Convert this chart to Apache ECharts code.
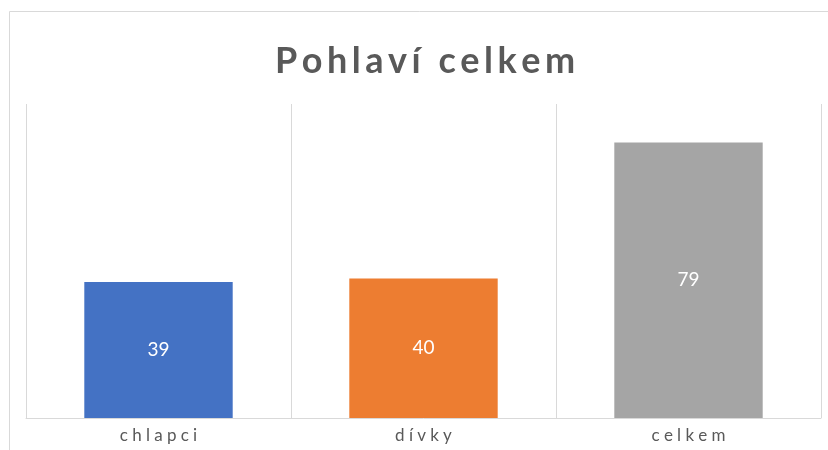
<!DOCTYPE html>
<html>
<head>
<meta charset="utf-8">
<script src="https://cdn.jsdelivr.net/npm/echarts@6/dist/echarts.min.js"></script>
<style>
  html, body { margin: 0; padding: 0; background: #fff; }
  #chart { width: 828px; height: 450px; }
</style>
</head>
<body>
<div id="chart"></div>
<script>
var categories = ['chlapci', 'dívky', 'celkem']
var values = [39, 40, 79]
var colors = ['#4472C4', '#ED7D31', '#A5A5A5']
var title = 'Pohlaví celkem'

// spread letters out a bit, like the source's character spacing
function spaced(s, sp) {
  return s.split('').join(sp)
}

var chart = echarts.init(document.getElementById('chart'))
chart.setOption({
  animation: false,
  title: {
    text: spaced(title, '\u2009'),
    left: 270,
    top: 38,
    textStyle: {
      fontFamily: 'Lato',
      fontWeight: 'bold',
      fontSize: 36,
      color: '#595959'
    }
  },
  graphic: [{
    type: 'rect',
    shape: { x: 9.5, y: 11.5, width: 830, height: 450 },
    style: { fill: 'none', stroke: '#d9d9d9', lineWidth: 1 },
    silent: true
  }],
  grid: {
    left: 26,
    right: 7,
    top: 104,
    bottom: 32
  },
  xAxis: {
    type: 'category',
    data: categories,
    axisTick: { show: false },
    axisLine: { lineStyle: { color: '#d9d9d9', width: 1 } },
    splitLine: { show: true, lineStyle: { color: '#d9d9d9', width: 1 } },
    axisLabel: {
      margin: 9,
      fontFamily: 'Lato',
      fontSize: 17,
      color: '#595959',
      formatter: function (v) { return spaced(v, '\u2009\u2009') }
    }
  },
  yAxis: {
    type: 'value',
    min: 0,
    max: 90,
    show: false,
    splitLine: { show: false }
  },
  series: [{
    type: 'bar',
    barCategoryGap: '44%',
    data: values.map(function (v, i) {
      return { value: v, itemStyle: { color: colors[i] } }
    }),
    label: {
      show: true,
      position: 'inside',
      fontFamily: 'Lato',
      fontSize: 19,
      color: '#ffffff'
    }
  }]
})
</script>
</body>
</html>
